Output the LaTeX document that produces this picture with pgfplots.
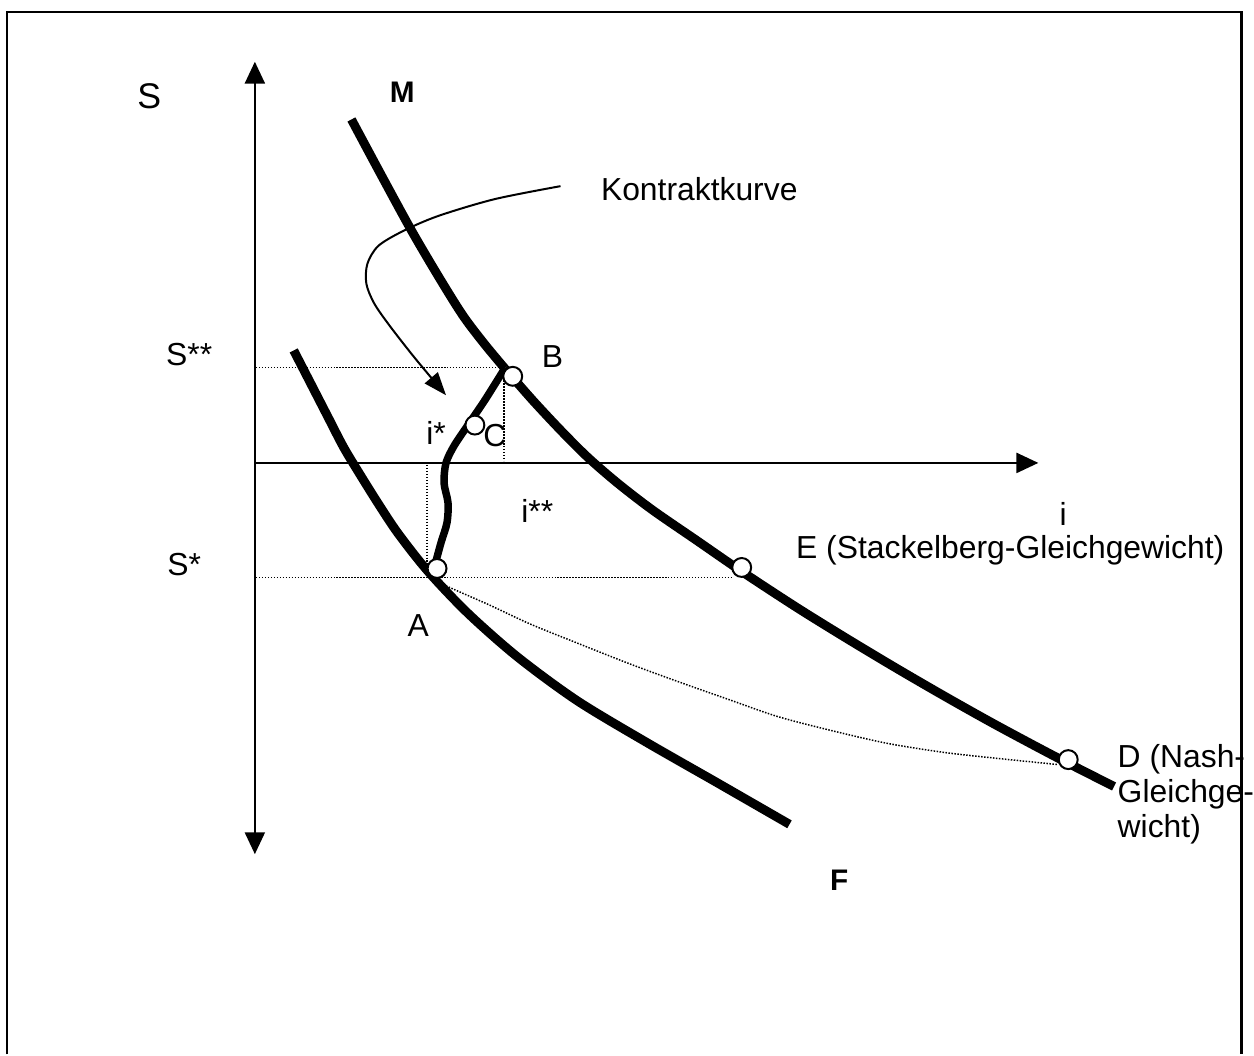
\documentclass[border=0pt]{standalone}
\usepackage{fontspec}
\setmainfont{Liberation Sans}
\usepackage{pgfplots}
\pgfplotsset{compat=1.18}
\usetikzlibrary{arrows.meta}
\begin{document}
\begin{tikzpicture}[
  txt/.style={font=\fontsize{9.1}{10}\selectfont, inner sep=0pt},
  bld/.style={font=\fontsize{8.5}{10}\selectfont\bfseries, inner sep=0pt},
  dot/.style={black, line width=0.15mm, dash pattern=on 0.15mm off 0.15mm},
  thickcurve/.style={black, line width=0.9mm, smooth, line cap=butt},
]
\begin{axis}[
  width=12.54cm, height=10.59cm, scale only axis,
  xmin=0, xmax=1254, ymin=0, ymax=1059, y dir=reverse,
  hide axis, clip=false,
]
\path (axis cs:0,0) rectangle (axis cs:1254,1059);
% frame
\addplot[black, line width=0.25mm, line join=miter] coordinates {(7,1059)(7,12)(1247,12)(1247,1059)};

% axes
\addplot[black, line width=0.25mm, {Triangle[length=2.2mm,width=2mm]}-{Triangle[length=2.2mm,width=2mm]}]
  coordinates {(256,858)(256,62)};
\addplot[black, line width=0.25mm, -{Triangle[length=2.2mm,width=2mm]}]
  coordinates {(256,465)(1043,465)};

% dotted guides
\addplot[dot] coordinates {(257,369)(507,369)};
\addplot[dot] coordinates {(506,382)(506,463)};
\addplot[dot] coordinates {(429,467)(429,572)};
\addplot[dot] coordinates {(257,580)(735,580)};
\addplot[dot, smooth] coordinates {(432,580)(447,588)(490,607)(533,627)(580,646)(633,667)(682,685)(733,703)(782,720)(840,735)(893,747)(950,756)(1004,762)(1063,768)};

% curve M
\addplot[thickcurve] coordinates {(353,120)(383,176)(413,231)(440,277)(465,317)(487,346)(507,370)};
\addplot[thickcurve] coordinates {(507,370)(535,402)(563,432)(590,459)(620,485)(655,512)(700,543)(745,574)(800,610)(850,641)(900,671)(950,700)(1000,728)(1060,760)(1119,790)};
% curve F
\addplot[thickcurve] coordinates {(295,352)(312,385)(330,420)(345,449)(360,474)(380,506)(400,536)(430,574)(470,616)(520,660)(580,704)(650,746)(720,786)(793,828)};
% contract curve A-B
\addplot[black, line width=0.75mm, smooth] coordinates {(437,567)(443,545)(449,525)(450,505)(446,485)(448,465)(456,448)(470,427)(487,402)(507,370)};

% Kontraktkurve pointer
\addplot[black, line width=0.2mm, smooth, -{Triangle[length=2.3mm,width=1.7mm]}]
  coordinates {(563,187)(497,200)(440,217)(405,232)(380,247)(369,265)(368,285)(376,305)(392,328)(417,360)(448,397)};

% points
\addplot[only marks, mark=*, mark size=0.95mm, mark options={fill=white, draw=black, line width=0.2mm}]
  coordinates {(439,571)(515,378)(477,427)(745,570)(1073,763)};

% labels
\node[font=\fontsize{10.2}{12}\selectfont, inner sep=0pt] at (axis cs:150,97) {S};
\node[bld] at (axis cs:404,93) {M};
\node[txt, anchor=west] at (axis cs:603,190) {Kontraktkurve};
\node[txt] at (axis cs:190,356) {S**};
\node[txt] at (axis cs:555,358) {B};
\node[txt] at (axis cs:438,435) {i*};
\node[txt] at (axis cs:497,437) {C};
\node[txt, anchor=west] at (axis cs:523,513) {i**};
\node[txt] at (axis cs:1068,516) {i};
\node[txt, anchor=west] at (axis cs:799,553) {E (Stackelberg-Gleichgewicht)};
\node[txt] at (axis cs:185,567) {S*};
\node[txt] at (axis cs:420,628) {A};
\node[txt, anchor=west] at (axis cs:1122,763) {D (Nash-};
\node[txt, anchor=west] at (axis cs:1122,798) {Gleichge-};
\node[txt, anchor=west] at (axis cs:1122,833) {wicht)};
\node[bld] at (axis cs:843,884) {F};
\end{axis}
\end{tikzpicture}
\end{document}
